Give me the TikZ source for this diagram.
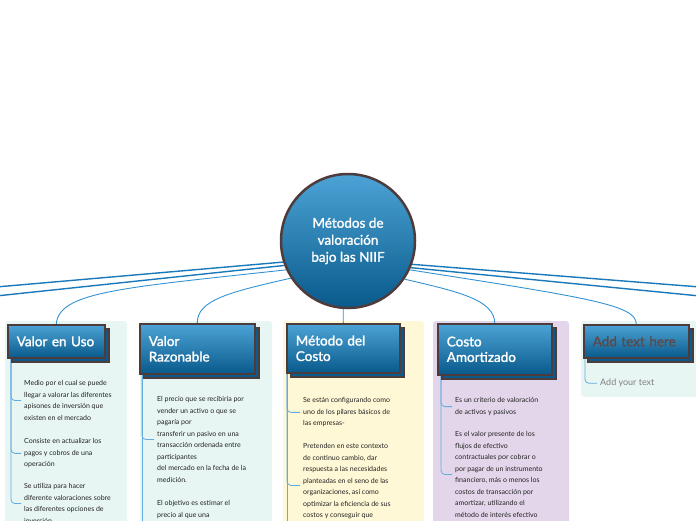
\documentclass[tikz,border=0pt]{standalone}
\usepackage{fontspec}
\setmainfont{Lato}
\newfontfamily\titlefont[FakeBold=1.5]{Lato}
\usetikzlibrary{shadows,backgrounds}

\definecolor{boxtop}{HTML}{4CA3D5}
\definecolor{boxbot}{HTML}{0A5A8C}
\definecolor{boxline}{HTML}{4E3C3C}
\definecolor{mainlink}{HTML}{1A79BA}
\definecolor{sublink}{HTML}{3393D2}
\definecolor{spine}{HTML}{62ACDF}
\definecolor{mint}{HTML}{E8F6F3}
\definecolor{cream}{HTML}{FFF8D6}
\definecolor{lilac}{HTML}{E3D6EA}
\definecolor{notetext}{HTML}{222222}
\definecolor{hint}{HTML}{5C4A4A}

\begin{document}
\begin{tikzpicture}[x=1pt,y=-1pt,
	hub/.style={circle,minimum size=134pt,draw=boxline,line width=2.5pt,
		top color=boxtop,bottom color=boxbot,text=white,align=center,
		font=\titlefont\fontsize{13.5}{17}\selectfont},
	topic/.style={anchor=north west,draw=boxline,line width=1.6pt,
		top color=boxtop,bottom color=boxbot,text=white,align=left,
		inner xsep=9pt,inner ysep=0pt,font=\titlefont\fontsize{13.5}{15.5}\selectfont,
		general shadow={shadow xshift=4pt,shadow yshift=-4pt,fill=boxbot,
			draw=boxline,line width=1.6pt}},
	note/.style={anchor=north west,inner xsep=3pt,inner ysep=1pt,align=left,
		text=notetext,font=\fontsize{7}{11.5}\selectfont},
	mainline/.style={draw=mainlink,line width=1.4pt},
	subline/.style={draw=sublink,line width=0.9pt},
	branch/.style={draw=spine,line width=0.8pt,rounded corners=4pt}]
	\useasboundingbox (0,0) rectangle (696,520);

	\begin{scope}[on background layer]
		\fill[mint,rounded corners=3pt] (5,321) rectangle (127,540);
		\fill[mint,rounded corners=3pt] (140,321) rectangle (272,540);
		\fill[cream,rounded corners=3pt] (283,321) rectangle (424,540);
		\fill[lilac,rounded corners=3pt] (433,321) rectangle (569,540);
		\fill[mint,rounded corners=3pt] (581,321) rectangle (700,397);
	\end{scope}

	\node[hub] (niif) at (348,241) {Métodos de\\valoración\\bajo las NIIF};

	\node[topic,minimum width=97pt,minimum height=33pt,text width=79pt] (uso) at (7,324) {Valor en Uso};
	\node[topic,minimum width=115pt,minimum height=50pt,text width=97pt] (raz) at (139,323) {Valor\\Razonable};
	\node[topic,minimum width=113pt,minimum height=49pt,text width=95pt] (met) at (286,323) {Método del\\Costo};
	\node[topic,minimum width=114pt,minimum height=51pt,text width=96pt] (cos) at (437,323) {Costo\\Amortizado};
	\node[topic,minimum width=105pt,minimum height=33pt,text width=87pt,text=hint] (add) at (583,324) {Add text here};

	\node[note] (uso1) at (21,379.5) {Medio por el cual se puede\\llegar a valorar las diferentes\\apisones de inversión  que\\existen en el mercado};
	\node[note] (uso2) at (21,437.5) {Consiste en actualizar los\\pagos y cobros de una\\operación};
	\node[note] (uso3) at (21,482.5) {Se utiliza para hacer\\diferente valoraciones sobre\\las diferentes opciones de\\inversión};

	\node[note] (raz1) at (154,395.5) {El precio que se recibiría por\\vender un activo o que se\\pagaría por\\transferir un pasivo en una\\transacción ordenada entre\\participantes\\del mercado en la fecha de la\\medición.};
	\node[note] (raz2) at (154,499.5) {El objetivo  es estimar el\\precio al que una};

	\node[note] (met1) at (300,396.5) {Se están configurando como\\uno de los pilares básicos de\\las empresas-};
	\node[note] (met2) at (300,442.5) {Pretenden en este contexto\\de continuo cambio, dar\\respuesta a las necesidades\\planteadas en el seno de las\\organizaciones, así como\\optimizar la eficiencia de sus\\costos y conseguir que};

	\node[note] (cos1) at (452,396.5) {Es un criterio de valoración\\de activos y pasivos};
	\node[note] (cos2) at (452,430.5) {Es el valor presente de los\\flujos de efectivo\\contractuales por cobrar o\\por pagar de un instrumento\\financiero, más o menos los\\costos de transacción por\\amortizar, utilizando el\\método de interés efectivo};

	\node[note,text=gray,font=\fontsize{9}{11}\selectfont] (add1) at (597,378) {Add your text};

	\coordinate (offL1) at (-4,287);
	\coordinate (offL2) at (-4,296);
	\coordinate (offR1) at (700,287);
	\coordinate (offR2) at (700,296);
	\coordinate (usoS) at (11,359);
	\coordinate (razS) at (142,375);
	\coordinate (razE) at (142,530);
	\coordinate (metS) at (287,374);
	\coordinate (metE) at (287,530);
	\coordinate (cosS) at (441,376);
	\coordinate (addS) at (585,359);

	\begin{scope}[on background layer]
		\draw[mainline] (niif.198) -- (offL1);
		\draw[mainline] (niif.201) -- (offL2);
		\draw[mainline] (niif.340) -- (offR1);
		\draw[mainline] (niif.337) -- (offR2);
		\draw[subline] (niif.205) .. controls (120,288) and (59,292) .. (uso.north);
		\draw[subline] (niif.213) .. controls (230,292) and (197,300) .. (raz.north);
		\draw[subline] (niif.266) -- (met.north);
		\draw[subline] (niif.326) .. controls (460,292) and (494,300) .. (cos.north);
		\draw[subline] (niif.335) .. controls (590,298) and (636,305) .. (add.north);

		\draw[branch] (usoS) |- (uso1.west);
		\draw[branch] (usoS) |- (uso2.west);
		\draw[branch] (usoS) |- (uso3.west);
		\draw[branch] (razS) |- (raz1.west);
		\draw[branch] (razS) -- (razE);
		\draw[branch] (metS) |- (met1.west);
		\draw[branch] (metS) |- ([yshift=-4pt]met2.west);
		\draw[branch] (metS) -- (metE);
		\draw[branch] (cosS) |- (cos1.west);
		\draw[branch] (cosS) |- (cos2.west);
		\draw[branch] (addS) |- (add1.west);
	\end{scope}
\end{tikzpicture}
\end{document}
